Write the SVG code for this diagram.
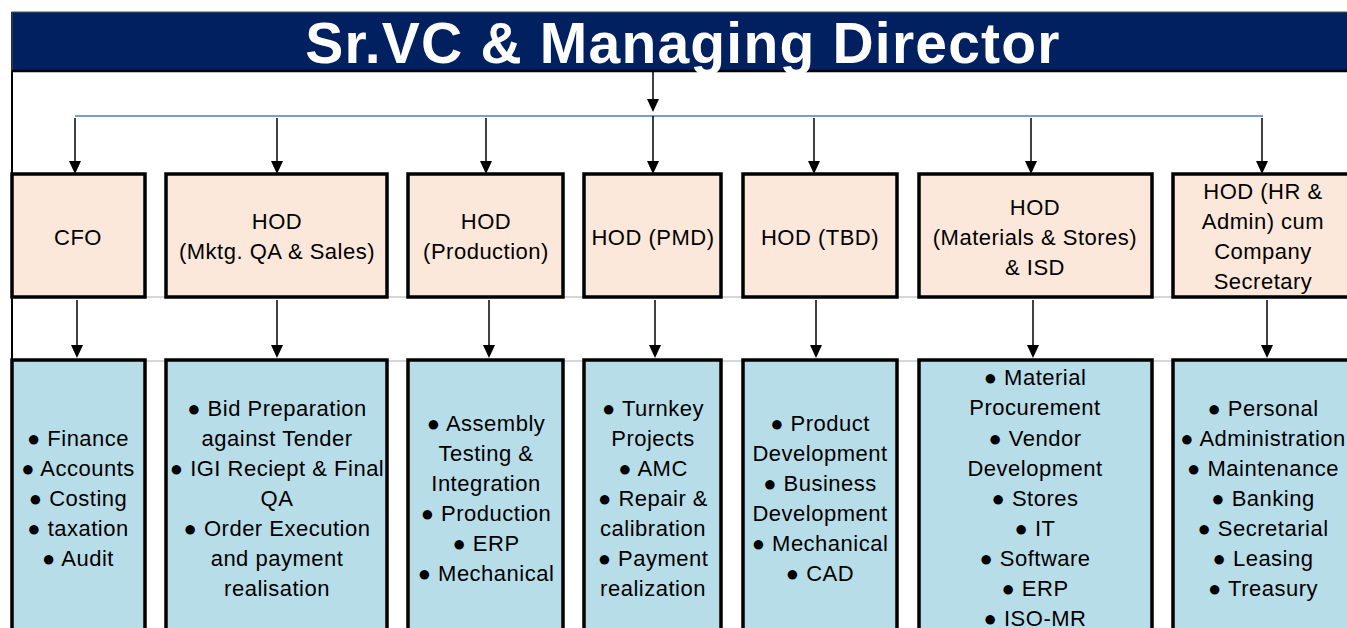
<svg xmlns="http://www.w3.org/2000/svg" width="1347" height="628" viewBox="0 0 1347 628">
<style>
.t{font-family:"Liberation Sans",Arial,sans-serif;font-size:22px;fill:#000;text-anchor:middle;letter-spacing:0.5px}
.hod{fill:#fce8da;stroke:#000;stroke-width:3.5}
.lst{fill:#b7dde8;stroke:#000;stroke-width:3.5}
.c{stroke:#000;stroke-width:1.5;fill:none}
.grid{stroke:#d6d6d6;stroke-width:2}
</style>
<defs>
<marker id="ah" viewBox="0 0 12 13" refX="6" refY="13" markerWidth="12" markerHeight="13" markerUnits="userSpaceOnUse" orient="auto-start-reverse">
<path d="M0,0 L12,0 L6,13 Z" fill="#000"/>
</marker>
</defs>
<rect width="1347" height="628" fill="#fff"/>
<g id="gridlines">
<line class="grid" x1="12" y1="297" x2="1347" y2="297"/>
<line class="grid" x1="12" y1="361" x2="1347" y2="361"/>
<line x1="12" y1="12" x2="12" y2="628" stroke="#000" stroke-width="2"/>
</g>
<g id="title">
<rect x="12" y="12" width="1340" height="59" fill="#002060" stroke="#555" stroke-width="1"/>
<line x1="12" y1="71" x2="1347" y2="71" stroke="#000" stroke-width="2.5"/>
<text x="683" y="63" font-family="'Liberation Sans',Arial,sans-serif" font-size="57" font-weight="bold" fill="#fff" text-anchor="middle" letter-spacing="1.2">Sr.VC &amp; Managing Director</text>
</g>
<g id="connectors">
<line class="c" x1="653" y1="72" x2="653" y2="99"/>
<path d="M647,99 L659,99 L653,112 Z" fill="#000"/>
<line x1="75" y1="116" x2="1263" y2="116" stroke="#4a7ebb" stroke-width="1.5"/>
<g fill="#000">
<line class="c" x1="75" y1="118" x2="75" y2="161"/><path d="M69,161 L81,161 L75,174 Z"/>
<line class="c" x1="277" y1="118" x2="277" y2="161"/><path d="M271,161 L283,161 L277,174 Z"/>
<line class="c" x1="486" y1="118" x2="486" y2="161"/><path d="M480,161 L492,161 L486,174 Z"/>
<line class="c" x1="653" y1="116" x2="653" y2="161"/><path d="M647,161 L659,161 L653,174 Z"/>
<line class="c" x1="814" y1="118" x2="814" y2="161"/><path d="M808,161 L820,161 L814,174 Z"/>
<line class="c" x1="1031" y1="118" x2="1031" y2="161"/><path d="M1025,161 L1037,161 L1031,174 Z"/>
<line class="c" x1="1262" y1="118" x2="1262" y2="161"/><path d="M1256,161 L1268,161 L1262,174 Z"/>
<line class="c" x1="77" y1="300" x2="77" y2="345"/><path d="M71,345 L83,345 L77,358 Z"/>
<line class="c" x1="277" y1="300" x2="277" y2="345"/><path d="M271,345 L283,345 L277,358 Z"/>
<line class="c" x1="489" y1="300" x2="489" y2="345"/><path d="M483,345 L495,345 L489,358 Z"/>
<line class="c" x1="655" y1="300" x2="655" y2="345"/><path d="M649,345 L661,345 L655,358 Z"/>
<line class="c" x1="816" y1="300" x2="816" y2="345"/><path d="M810,345 L822,345 L816,358 Z"/>
<line class="c" x1="1033" y1="300" x2="1033" y2="345"/><path d="M1027,345 L1039,345 L1033,358 Z"/>
<line class="c" x1="1267" y1="300" x2="1267" y2="345"/><path d="M1261,345 L1273,345 L1267,358 Z"/>
</g>
</g>
<g id="cfo">
<rect class="hod" x="12" y="174" width="133" height="123"/>
<text class="t" x="78" y="245">CFO</text>
</g>
<g id="mktg">
<rect class="hod" x="166" y="174" width="221" height="123"/>
<text class="t" x="277" y="229">HOD</text>
<text class="t" x="277" y="259">(Mktg. QA &amp; Sales)</text>
</g>
<g id="production">
<rect class="hod" x="408" y="174" width="155" height="123"/>
<text class="t" x="486" y="229">HOD</text>
<text class="t" x="486" y="259">(Production)</text>
</g>
<g id="pmd">
<rect class="hod" x="584" y="174" width="137" height="123"/>
<text class="t" x="653" y="245">HOD (PMD)</text>
</g>
<g id="tbd">
<rect class="hod" x="743" y="174" width="154" height="123"/>
<text class="t" x="820" y="245">HOD (TBD)</text>
</g>
<g id="materials">
<rect class="hod" x="919" y="174" width="233" height="123"/>
<text class="t" x="1035" y="215">HOD</text>
<text class="t" x="1035" y="245">(Materials &amp; Stores)</text>
<text class="t" x="1035" y="275">&amp; ISD</text>
</g>
<g id="hr">
<rect class="hod" x="1173" y="174" width="182" height="123"/>
<text class="t" x="1263" y="199">HOD (HR &amp;</text>
<text class="t" x="1263" y="229">Admin) cum</text>
<text class="t" x="1263" y="259">Company</text>
<text class="t" x="1263" y="289">Secretary</text>
</g>
<g id="cfo-list">
<rect class="lst" x="12" y="360" width="133" height="280"/>
<text class="t" x="78" y="446">● Finance</text>
<text class="t" x="78" y="476">● Accounts</text>
<text class="t" x="78" y="506">● Costing</text>
<text class="t" x="78" y="536">● taxation</text>
<text class="t" x="78" y="566">● Audit</text>
</g>
<g id="mktg-list">
<rect class="lst" x="166" y="360" width="221" height="280"/>
<text class="t" x="277" y="416">● Bid Preparation</text>
<text class="t" x="277" y="446">against Tender</text>
<text class="t" x="277" y="476">● IGI Reciept &amp; Final</text>
<text class="t" x="277" y="506">QA</text>
<text class="t" x="277" y="536">● Order Execution</text>
<text class="t" x="277" y="566">and payment</text>
<text class="t" x="277" y="596">realisation</text>
</g>
<g id="production-list">
<rect class="lst" x="408" y="360" width="155" height="280"/>
<text class="t" x="486" y="431">● Assembly</text>
<text class="t" x="486" y="461">Testing &amp;</text>
<text class="t" x="486" y="491">Integration</text>
<text class="t" x="486" y="521">● Production</text>
<text class="t" x="486" y="551">● ERP</text>
<text class="t" x="486" y="581">● Mechanical</text>
</g>
<g id="pmd-list">
<rect class="lst" x="584" y="360" width="137" height="280"/>
<text class="t" x="653" y="416">● Turnkey</text>
<text class="t" x="653" y="446">Projects</text>
<text class="t" x="653" y="476">● AMC</text>
<text class="t" x="653" y="506">● Repair &amp;</text>
<text class="t" x="653" y="536">calibration</text>
<text class="t" x="653" y="566">● Payment</text>
<text class="t" x="653" y="596">realization</text>
</g>
<g id="tbd-list">
<rect class="lst" x="743" y="360" width="154" height="280"/>
<text class="t" x="820" y="431">● Product</text>
<text class="t" x="820" y="461">Development</text>
<text class="t" x="820" y="491">● Business</text>
<text class="t" x="820" y="521">Development</text>
<text class="t" x="820" y="551">● Mechanical</text>
<text class="t" x="820" y="581">● CAD</text>
</g>
<g id="materials-list">
<rect class="lst" x="919" y="360" width="233" height="280"/>
<text class="t" x="1035" y="385">● Material</text>
<text class="t" x="1035" y="415">Procurement</text>
<text class="t" x="1035" y="446">● Vendor</text>
<text class="t" x="1035" y="476">Development</text>
<text class="t" x="1035" y="506">● Stores</text>
<text class="t" x="1035" y="536">● IT</text>
<text class="t" x="1035" y="566">● Software</text>
<text class="t" x="1035" y="596">● ERP</text>
<text class="t" x="1035" y="626">● ISO-MR</text>
</g>
<g id="hr-list">
<rect class="lst" x="1173" y="360" width="182" height="280"/>
<text class="t" x="1263" y="416">● Personal</text>
<text class="t" x="1263" y="446">● Administration</text>
<text class="t" x="1263" y="476">● Maintenance</text>
<text class="t" x="1263" y="506">● Banking</text>
<text class="t" x="1263" y="536">● Secretarial</text>
<text class="t" x="1263" y="566">● Leasing</text>
<text class="t" x="1263" y="596">● Treasury</text>
</g>
</svg>
